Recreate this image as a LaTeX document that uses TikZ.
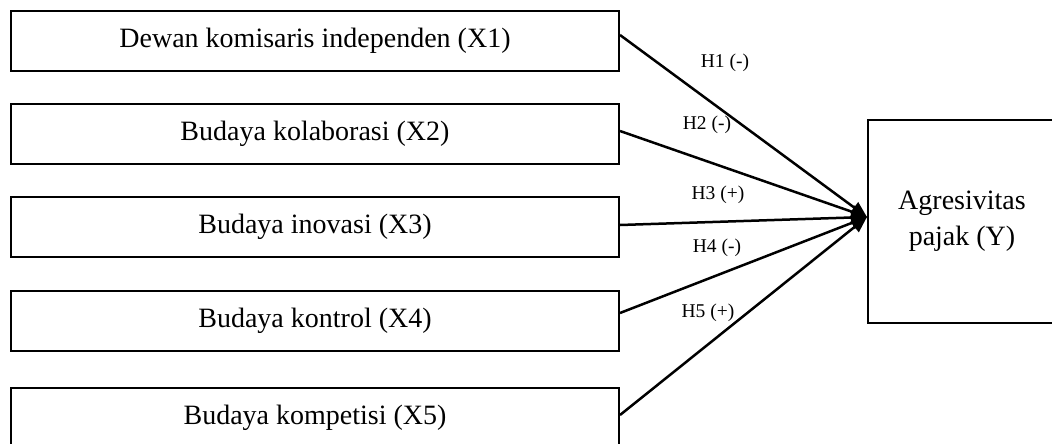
\documentclass[tikz,border=0pt]{standalone}
\usepackage{fontspec}
\setmainfont{Liberation Serif}
\usetikzlibrary{arrows.meta}
\begin{document}
\begin{tikzpicture}[x=1pt,y=1pt,
  varbox/.style={draw, line width=2pt, minimum width=608pt, minimum height=60pt, inner sep=0pt, font=\fontsize{28}{33}\selectfont},
  ybox/.style={draw, line width=2pt, minimum width=188pt, minimum height=203pt, inner sep=0pt, align=center, font=\fontsize{28}{36}\selectfont},
  hyp/.style={font=\fontsize{19.5}{23}\selectfont, inner sep=0pt},
  link/.style={line width=2.5pt, -{Triangle[length=16pt,width=13pt]}}]
\useasboundingbox (0,0) rectangle (1052,-444);
\clip (0,0) rectangle (1052,-444);
\node[varbox] (X1) at (315,-41) {Dewan komisaris independen (X1)};
\node[varbox] (X2) at (315,-133.5) {Budaya kolaborasi (X2)};
\node[varbox] (X3) at (315,-227) {Budaya inovasi (X3)};
\node[varbox] (X4) at (315,-321) {Budaya kontrol (X4)};
\node[varbox] (X5) at (315,-418) {Budaya kompetisi (X5)};
\node[ybox] (Y) at (962,-221.5) {Agresivitas\\pajak (Y)};
\coordinate (tip) at ([yshift=4.5pt]Y.west);
\draw[link] ([yshift=6pt]X1.east) -- (tip);
\draw[link] ([yshift=2.5pt]X2.east) -- (tip);
\draw[link] ([yshift=2pt]X3.east) -- (tip);
\draw[link] ([yshift=8pt]X4.east) -- (tip);
\draw[link] ([yshift=3pt]X5.east) -- (tip);
\node[hyp] (h1) at (725,-63) {H1 (-)};
\node[hyp] (h2) at (707,-125) {H2 (-)};
\node[hyp] (h3) at (718,-195) {H3 (+)};
\node[hyp] (h4) at (717,-248) {H4 (-)};
\node[hyp] (h5) at (708,-313) {H5 (+)};
\end{tikzpicture}
\end{document}
